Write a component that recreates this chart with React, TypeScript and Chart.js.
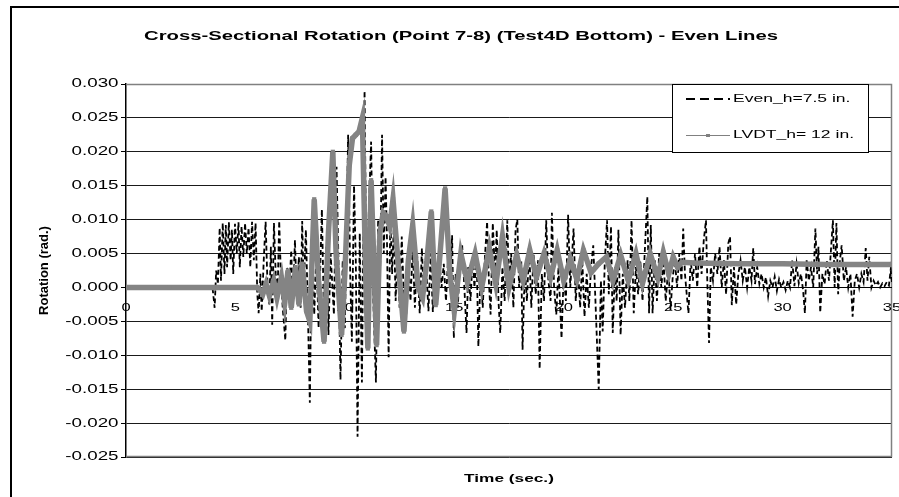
import React, { useEffect, useRef } from "react";
import { Chart, registerables } from "chart.js";

Chart.register(...registerables);

const TITLE = "Cross-Sectional Rotation (Point 7-8) (Test4D Bottom) - Even Lines";
const Y_TITLE = "Rotation (rad.)";
const X_TITLE = "Time (sec.)";
const SERIES_NAMES = ["Even_h=7.5 in.", "LVDT_h= 12 in."];

const yTicks = [0.03, 0.025, 0.02, 0.015, 0.01, 0.005, 0, -0.005, -0.01, -0.015, -0.02, -0.025];
const yTickLabels = ["0.030", "0.025", "0.020", "0.015", "0.010", "0.005", "0.000", "-0.005", "-0.010", "-0.015", "-0.020", "-0.025"];
const xTicks = [0, 5, 10, 15, 20, 25, 30, 35];
const xTickLabels = ["0", "5", "10", "15", "20", "25", "30", "35"];

// Even_h=7.5 in. : [time (s), rotation (rad)]
const evenSeries: [number, number][] = [
  [0, 0], [1, 0], [2, 0], [3, 0], [3.95, 0.0001],
  [4.05, -0.003], [4.12, 0.0025], [4.2, 0.0005], [4.28, 0.0088], [4.34, 0.001], [4.42, 0.0095], [4.5, 0.002], [4.56, 0.0092], [4.62, 0.003], [4.7, 0.0096], [4.78, 0.004], [4.84, 0.0085], [4.9, 0.002], [4.98, 0.0094], [5.06, 0.005], [5.14, 0.0096], [5.2, 0.003], [5.28, 0.009], [5.36, 0.0045], [5.44, 0.0095], [5.52, 0.005], [5.6, 0.0088], [5.68, 0.003], [5.76, 0.0097], [5.84, 0.004], [5.92, 0.0095], [6.0, -0.001], [6.06, -0.0038], [6.14, 0.002], [6.2, -0.0035], [6.3, 0.0045], [6.38, 0.0097], [6.46, 0.001], [6.55, -0.0025], [6.62, 0.006], [6.68, -0.0055], [6.76, 0.0095], [6.84, 0.002], [6.92, -0.002], [7.0, 0.0098], [7.08, 0.0015], [7.16, -0.003], [7.28, -0.0078], [7.36, 0.003], [7.45, -0.001], [7.55, 0.0055], [7.62, -0.0025], [7.72, 0.007], [7.8, -0.0015], [7.9, 0.0045], [7.98, -0.003], [8.05, 0.0098], [8.12, 0.0], [8.22, 0.0085], [8.3, -0.002],
  [8.4, -0.017], [8.5, 0.0093], [8.6, -0.004], [8.7, 0.005], [8.8, -0.006], [8.95, 0.0115], [9.05, -0.005], [9.15, 0.006], [9.25, -0.007], [9.35, 0.005], [9.5, -0.004], [9.62, 0.0178], [9.72, 0.002], [9.8, -0.0136], [9.9, 0.004], [10.0, -0.006], [10.15, 0.0225], [10.25, 0.001], [10.32, -0.008], [10.42, 0.015], [10.5, 0.004], [10.58, -0.022], [10.68, 0.008], [10.78, -0.014], [10.9, 0.029], [11.0, -0.004], [11.1, 0.012], [11.2, 0.0215], [11.3, -0.002], [11.42, -0.014], [11.52, 0.01], [11.6, 0.0], [11.7, 0.0225], [11.78, 0.005], [11.86, 0.0163], [11.92, 0.008], [12.0, -0.0103], [12.08, 0.011], [12.16, 0.002], [12.24, 0.0095], [12.32, -0.002], [12.42, 0.0065], [12.5, -0.003], [12.6, 0.0075], [12.68, 0.0], [12.8, -0.0045], [12.9, 0.004], [13.0, -0.002], [13.1, 0.006], [13.2, -0.003], [13.3, 0.005], [13.42, -0.0038], [13.52, 0.0058], [13.6, -0.001],
  [13.7, 0.004], [13.82, -0.0035], [13.92, 0.005], [14.02, -0.0036], [14.12, 0.003], [14.22, -0.001], [14.32, 0.004], [14.42, 0.0], [14.52, 0.0035], [14.62, -0.002], [14.72, 0.0045], [14.82, 0.001], [14.9, 0.0077], [14.98, -0.0075], [15.06, 0.002], [15.16, -0.003], [15.26, 0.004], [15.36, 0.0062], [15.46, 0.0], [15.56, -0.0067], [15.64, 0.003], [15.74, -0.002], [15.84, 0.0045], [15.92, 0.0], [16.02, 0.005], [16.1, -0.0087], [16.2, 0.002], [16.3, -0.003], [16.4, 0.0045], [16.5, 0.0097], [16.58, 0.001], [16.66, -0.004], [16.76, 0.0095], [16.86, 0.002], [16.94, 0.0085], [17.02, -0.002], [17.1, -0.0067], [17.2, 0.003], [17.3, -0.002], [17.42, 0.0099], [17.5, 0.001], [17.6, 0.005], [17.7, -0.003], [17.8, 0.0085], [17.88, 0.01], [17.96, 0.0], [18.06, 0.004], [18.12, -0.0092], [18.22, 0.003], [18.32, -0.002], [18.42, 0.006], [18.52, -0.003], [18.62, 0.005], [18.72, -0.001], [18.82, 0.004], [18.9, -0.012],
  [19.0, 0.002], [19.1, -0.002], [19.2, 0.0099], [19.3, 0.001], [19.4, -0.002], [19.46, 0.011], [19.56, 0.0], [19.66, -0.004], [19.76, 0.003], [19.9, -0.0075], [20.0, 0.002], [20.1, -0.002], [20.2, 0.0107], [20.3, 0.0], [20.45, 0.0087], [20.55, -0.002], [20.65, 0.003], [20.75, -0.003], [20.85, 0.004], [20.95, -0.0043], [21.05, 0.002], [21.15, -0.003], [21.25, 0.003], [21.35, 0.0062], [21.45, -0.002], [21.6, -0.015], [21.7, 0.001], [21.78, -0.0065], [21.88, 0.004], [21.98, 0.0099], [22.06, -0.001], [22.16, 0.009], [22.24, -0.0067], [22.34, 0.003], [22.42, -0.002], [22.5, 0.0085], [22.6, -0.007], [22.7, 0.002], [22.8, -0.003], [22.92, 0.004], [23.0, -0.002], [23.1, 0.0099], [23.2, -0.0038], [23.3, 0.003], [23.4, -0.001], [23.5, 0.004], [23.6, -0.002], [23.7, 0.005], [23.82, 0.0134], [23.9, -0.0038], [23.98, 0.0092],
  [24.06, -0.0038], [24.16, 0.004], [24.26, -0.002], [24.36, 0.005], [24.46, 0.0], [24.56, 0.004], [24.66, -0.002], [24.78, 0.003], [24.88, -0.0033], [24.98, 0.0015], [25.08, 0.004], [25.18, 0.0], [25.28, 0.005], [25.38, 0.001], [25.46, 0.0087], [25.54, 0.002], [25.62, -0.001], [25.7, -0.0038], [25.8, 0.004], [25.9, 0.001], [26.0, 0.005], [26.1, 0.0], [26.2, 0.006], [26.3, 0.002], [26.4, 0.007], [26.5, 0.0099], [26.56, 0.001], [26.64, -0.0082], [26.72, 0.003], [26.82, 0.001], [26.92, 0.005], [27.02, 0.002], [27.12, 0.006], [27.22, 0.0], [27.32, 0.004], [27.42, -0.001], [27.52, 0.0065], [27.6, 0.0075], [27.68, -0.0026], [27.78, 0.003], [27.88, -0.0025], [27.98, 0.002], [28.08, 0.004], [28.18, 0.001], [28.28, 0.003], [28.38, 0.0], [28.48, 0.003], [28.58, 0.001], [28.66, 0.0058], [28.74, 0.0005], [28.84, 0.003], [28.94, 0.0005], [29.04, 0.002], [29.14, 0.0], [29.24, 0.0015], [29.34, -0.0013], [29.44, 0.001],
  [29.54, 0.0], [29.64, 0.0016], [29.74, -0.0005], [29.84, 0.0012], [29.94, 0.0], [30.04, 0.0008], [30.14, -0.0004], [30.24, 0.001], [30.34, 0.0], [30.44, 0.004], [30.54, 0.0002], [30.64, 0.0035], [30.74, 0.0006], [30.84, 0.002], [30.94, -0.0005], [31.02, -0.0038], [31.1, 0.004], [31.2, 0.001], [31.3, 0.003], [31.4, 0.0], [31.5, 0.0087], [31.58, 0.002], [31.64, 0.006], [31.72, -0.0037], [31.82, 0.002], [31.92, 0.0005], [32.02, 0.004], [32.12, 0.001], [32.22, 0.006], [32.3, 0.0099], [32.38, 0.0], [32.46, 0.0095], [32.54, -0.001], [32.62, 0.004], [32.7, 0.0062], [32.8, 0.001], [32.9, 0.003], [33.0, 0.0], [33.1, 0.002], [33.2, -0.0043], [33.3, 0.001], [33.4, 0.002], [33.5, 0.0], [33.6, 0.002], [33.7, 0.0008], [33.8, 0.0058], [33.88, 0.001], [33.96, 0.0045], [34.06, 0.0], [34.16, 0.001], [34.26, 0.0003], [34.36, 0.0008], [34.46, 0.0], [34.56, 0.0006], [34.66, 0.0002], [34.76, 0.0008], [34.86, 0.0003], [34.94, 0.0026], [35.0, 0.0005],
];

// LVDT_h= 12 in. : [time (s), rotation (rad)]
const lvdtSeries: [number, number][] = [
  [0, 0], [2, 0], [4, 0], [6, 0], [6.1, -0.0003], [6.25, -0.001], [6.4, 0.0005], [6.55, -0.0012], [6.75, 0.001], [6.9, -0.0015], [7.1, 0.0015], [7.25, -0.0022], [7.4, 0.0025], [7.55, -0.003], [7.75, 0.003], [7.9, -0.0025], [8.05, 0.0035], [8.25, -0.0035], [8.4, -0.005],
  [8.6, 0.013], [8.8, 0.001], [9.05, -0.008], [9.25, 0.008], [9.45, 0.02], [9.6, 0.005], [9.85, -0.007], [10.0, 0.002], [10.2, 0.018], [10.35, 0.022], [10.5, 0.0225], [10.65, 0.023], [10.8, 0.025], [10.95, 0.002], [11.05, -0.009], [11.2, 0.0158], [11.45, -0.0085], [11.6, 0.008], [11.75, 0.011], [11.9, 0.0105], [12.05, 0.009], [12.2, 0.013], [12.45, 0.003], [12.7, -0.0065], [12.9, 0.004], [13.1, 0.0092], [13.35, 0.0], [13.55, -0.0015], [13.75, 0.004], [13.95, 0.0112], [14.15, -0.0026], [14.35, 0.005], [14.58, 0.0146], [14.8, 0.002], [15.0, -0.0035],
  [15.3, 0.005], [15.6, 0.0008], [15.95, 0.005], [16.25, 0.0], [16.6, 0.0058], [16.9, 0.0005], [17.2, 0.0075], [17.5, 0.0], [17.85, 0.0048], [18.15, 0.001], [18.45, 0.0055], [18.75, 0.0015], [19.1, 0.005], [19.4, 0.0015], [19.7, 0.0055], [20.0, 0.001], [20.3, 0.0042], [20.6, 0.0012], [20.9, 0.0055], [21.25, 0.0022], [21.6, 0.0035], [21.95, 0.0045], [22.25, 0.001], [22.6, 0.0048], [22.95, 0.001], [23.3, 0.005], [23.6, 0.0006], [23.95, 0.005],
  [24.3, 0.0014], [24.55, 0.0052], [24.8, 0.002], [25.0, 0.0045], [25.2, 0.003], [25.4, 0.0037], [26.0, 0.0036], [28.0, 0.0035], [30.0, 0.0035], [32.0, 0.0034], [35.0, 0.0034],
];

const FONT = "'Liberation Sans', Arial, Helvetica, sans-serif";
const SX = 1.5;

function drawText(ctx: CanvasRenderingContext2D, text: string, x: number, y: number, font: string, align: CanvasTextAlign, sx: number, rotate = 0) {
  ctx.save();
  ctx.translate(x, y);
  ctx.scale(sx, 1);
  if (rotate) ctx.rotate(rotate);
  ctx.font = font;
  ctx.fillStyle = "#000";
  ctx.textAlign = align;
  ctx.textBaseline = "middle";
  ctx.fillText(text, 0, 0);
  ctx.restore();
}

const decorPlugin = {
  id: "decor",
  beforeDatasetsDraw(chart: any) {
    const { ctx, chartArea: a, scales } = chart;
    ctx.save();
    ctx.strokeStyle = "#808080";
    ctx.lineWidth = 1.5;
    ctx.beginPath();
    ctx.moveTo(a.left, a.top + 0.5);
    ctx.lineTo(a.right - 0.5, a.top + 0.5);
    ctx.lineTo(a.right - 0.5, a.bottom - 0.5);
    ctx.lineTo(a.left, a.bottom - 0.5);
    ctx.stroke();
    const y0 = Math.round(scales.y.getPixelForValue(0)) + 0.5;
    ctx.strokeStyle = "#000";
    ctx.lineWidth = 1;
    ctx.beginPath();
    ctx.moveTo(a.left, y0);
    ctx.lineTo(a.right, y0);
    ctx.stroke();
    ctx.restore();
    xTicks.forEach((v, i) => {
      drawText(ctx, xTickLabels[i], scales.x.getPixelForValue(v), y0 + 20, `11px ${FONT}`, "center", SX);
    });
  },
  afterDraw(chart: any) {
    const { ctx, chartArea: a, scales } = chart;
    yTicks.forEach((v, i) => {
      drawText(ctx, yTickLabels[i], a.left - 7.5, scales.y.getPixelForValue(v), `12.5px ${FONT}`, "right", SX);
    });
    drawText(ctx, TITLE, 461, 36, `bold 13px ${FONT}`, "center", 1.56);
    drawText(ctx, X_TITLE, (a.left + a.right) / 2, 479, `bold 11.5px ${FONT}`, "center", SX);
    drawText(ctx, Y_TITLE, 44, (a.top + a.bottom) / 2, `bold 13px ${FONT}`, "center", 1.0, -Math.PI / 2);
    const lx = 672, ly = 84, lw = 196, lh = 68;
    ctx.save();
    ctx.fillStyle = "#fff";
    ctx.fillRect(lx, ly, lw, lh);
    ctx.strokeStyle = "#000";
    ctx.lineWidth = 1;
    ctx.strokeRect(lx + 0.5, ly + 0.5, lw, lh);
    ctx.lineWidth = 2;
    ctx.setLineDash([9, 5]);
    ctx.beginPath();
    ctx.moveTo(686, 99);
    ctx.lineTo(730, 99);
    ctx.stroke();
    ctx.setLineDash([]);
    ctx.strokeStyle = "#808080";
    ctx.lineWidth = 1;
    ctx.beginPath();
    ctx.moveTo(686, 135.5);
    ctx.lineTo(730, 135.5);
    ctx.stroke();
    ctx.fillStyle = "#808080";
    ctx.fillRect(706, 134, 4, 3);
    ctx.restore();
    drawText(ctx, SERIES_NAMES[0], 733, 99, `11.7px ${FONT}`, "left", SX);
    drawText(ctx, SERIES_NAMES[1], 733, 135, `11.7px ${FONT}`, "left", SX);
    ctx.save();
    ctx.strokeStyle = "#000";
    ctx.lineWidth = 2;
    ctx.beginPath();
    ctx.moveTo(11, 497);
    ctx.lineTo(11, 7);
    ctx.lineTo(899, 7);
    ctx.stroke();
    ctx.restore();
  },
};

export default function App() {
  const ref = useRef<HTMLCanvasElement | null>(null);
  useEffect(() => {
    if (!ref.current) return;
    const chart = new Chart(ref.current, {
      type: "line",
      data: {
        datasets: [
          {
            label: SERIES_NAMES[0],
            data: evenSeries.map(([x, y]) => ({ x, y })),
            borderColor: "#000",
            borderWidth: 1.8,
            borderDash: [5, 3],
            pointRadius: 0,
            tension: 0,
            order: 1,
          },
          {
            label: SERIES_NAMES[1],
            data: lvdtSeries.map(([x, y]) => ({ x, y })),
            borderColor: "#848484",
            borderWidth: 5.5,
            pointRadius: 3,
            pointStyle: "rect",
            pointBackgroundColor: "#848484",
            pointBorderWidth: 0,
            tension: 0,
            order: 0,
          },
        ],
      },
      options: {
        responsive: false,
        animation: false,
        events: [],
        layout: { padding: { left: 0, top: 84, right: 7, bottom: 40 } },
        plugins: { legend: { display: false }, tooltip: { enabled: false }, title: { display: false } },
        scales: {
          x: { type: "linear", min: 0, max: 35, display: false },
          y: {
            type: "linear",
            min: -0.025,
            max: 0.03,
            ticks: { stepSize: 0.005, display: false },
            grid: { color: "#1a1a1a", lineWidth: 1, drawTicks: true, tickLength: 5, tickColor: "#000" },
            border: { display: true, color: "#000", width: 1.5 },
            afterFit: (scale: any) => {
              scale.width = 126;
            },
          },
        },
      },
      plugins: [decorPlugin],
    });
    return () => chart.destroy();
  }, []);
  return (
    <div style={{ position: "fixed", left: 0, top: 0, width: 899, height: 497, background: "#fff" }}>
      <canvas ref={ref} width={899} height={497} style={{ display: "block" }} />
    </div>
  );
}
